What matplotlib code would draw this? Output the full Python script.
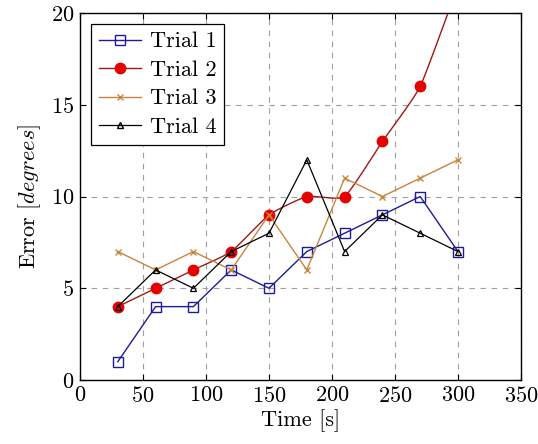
import matplotlib
matplotlib.use('Agg')
import matplotlib.pyplot as plt
from matplotlib.lines import Line2D
import numpy as np

plt.rcParams.update({'font.family': 'serif', 'font.serif': ['cmr10'],
                     'mathtext.fontset': 'cm', 'axes.formatter.use_mathtext': True,
                     'font.size': 16})

time = [30, 60, 90, 120, 150, 180, 210, 240, 270, 300]
trial1 = [1, 4, 4, 6, 5, 7, 8, 9, 10, 7]
trial2 = [4, 5, 6, 7, 9, 10, 10, 13, 16, 21.5]
trial3 = [7, 6, 7, 6, 9, 6, 11, 10, 11, 12]
trial4 = [4, 6, 5, 7, 8, 12, 7, 9, 8, 7]


def smooth(xs, ys, k=0.08, n=20):
    # cardinal spline through the points, like tikz "smooth"
    p = np.column_stack([xs, ys]).astype(float)
    out = [p[0]]
    for i in range(len(p) - 1):
        a = p[i - 1] if i > 0 else p[i]
        b, c = p[i], p[i + 1]
        d = p[i + 2] if i + 2 < len(p) else p[i + 1]
        c1 = b + k * (c - a)
        c2 = c - k * (d - b)
        t = np.linspace(0, 1, n)[1:, None]
        seg = (1 - t)**3 * b + 3 * (1 - t)**2 * t * c1 + 3 * (1 - t) * t**2 * c2 + t**3 * c
        out.extend(seg)
    out = np.array(out)
    return out[:, 0], out[:, 1]


fig = plt.figure(figsize=(5.38, 4.44), dpi=100)
ax = fig.add_axes([0.1487, 0.1441, 0.8197, 0.8266])

blue = '#1c1c96'
red_line = '#a01818'
red = '#e60000'
orange = '#c8863c'

ax.plot(time, trial1, color=blue, lw=1.0, marker='s', ms=7, mfc='none', mec=blue, mew=1.0)
sx, sy = smooth(time, trial2)
ax.plot(sx, sy, color=red_line, lw=1.0)
ax.plot(time, trial2, ls='none', marker='o', ms=7.5, mfc=red, mec=red)
ax.plot(time, trial3, color=orange, lw=1.0, marker='x', ms=5, mew=1.0)
ax.plot(time, trial4, color='black', lw=0.9, marker='^', ms=5, mfc='none', mec='black', mew=0.9)

ax.set_xlim(0, 350)
ax.set_ylim(0, 20)
ax.set_xticks(np.arange(0, 351, 50))
ax.set_yticks(np.arange(0, 21, 5))
ax.grid(True, color='#a0a0a0', ls=(0, (5, 5)), lw=0.8)
ax.tick_params(direction='in', top=True, right=True, length=4, width=0.8, labelsize=16, pad=4)
for s in ax.spines.values():
    s.set_linewidth(1.0)

ax.set_xlabel('Time [s]', fontsize=16, labelpad=3)
ax.set_ylabel('Error [$degrees$]', fontsize=16, labelpad=6)

handles = [
    Line2D([], [], color=blue, lw=1.0, marker='s', ms=7, mfc='none', mec=blue),
    Line2D([], [], color=red_line, lw=1.0, marker='o', ms=7.5, mfc=red, mec=red),
    Line2D([], [], color=orange, lw=1.0, marker='x', ms=5),
    Line2D([], [], color='black', lw=0.9, marker='^', ms=5, mfc='none'),
]
leg = ax.legend(handles, ['Trial 1', 'Trial 2', 'Trial 3', 'Trial 4'], loc='upper left',
                fancybox=False, framealpha=1, edgecolor='black', fontsize=16,
                handlelength=1.9, borderaxespad=0.5, labelspacing=0.4, borderpad=0.35,
                handletextpad=0.4)
leg.get_frame().set_linewidth(0.9)

fig.savefig('out.png', dpi=100)
